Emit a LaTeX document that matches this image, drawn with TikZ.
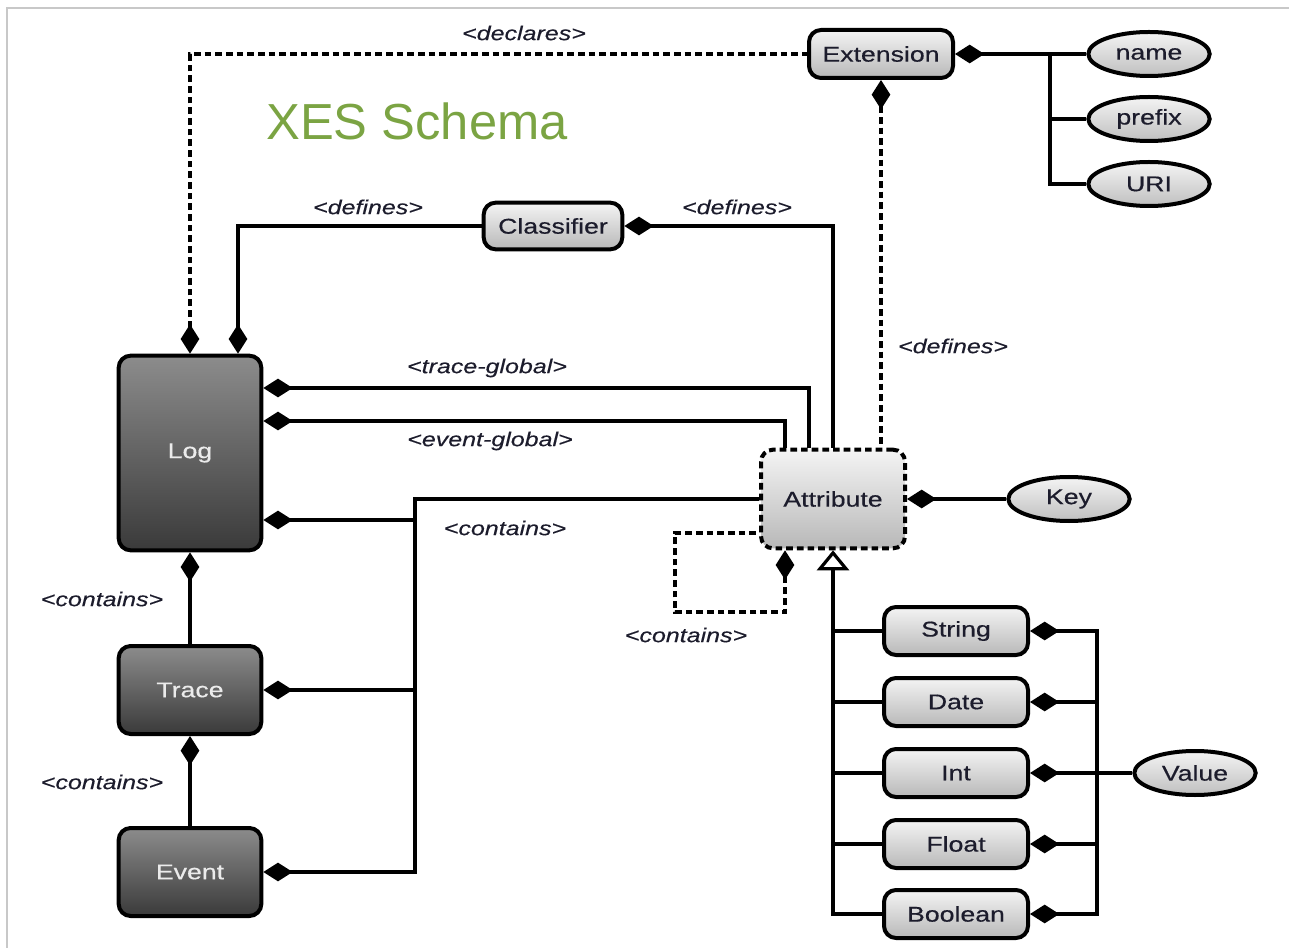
\documentclass[tikz,border=0pt]{standalone}
\usepackage{fontspec}
\setmainfont{Liberation Sans}
\newfontfamily\boxfont[FakeStretch=1.25,FakeBold=0.5]{Liberation Sans}
\newfontfamily\rolefont[FakeStretch=1.25,FakeBold=0.3]{Liberation Sans Italic}
\newfontfamily\titlefont{Liberation Sans}
\usetikzlibrary{arrows.meta,shapes.geometric}

\definecolor{titlegreen}{HTML}{7BA443}
\definecolor{darktop}{HTML}{8C8C8C}
\definecolor{darkbot}{HTML}{3A3A3A}
\definecolor{lighttop}{HTML}{F4F4F4}
\definecolor{lightbot}{HTML}{B8B8B8}
\definecolor{inktext}{HTML}{1C1C2C}
\definecolor{frameline}{HTML}{C8C8C8}

\tikzset{
  dm/.tip={Diamond[length=22pt,width=14pt]},
  gen/.tip={Triangle[open,fill=white,length=15pt,width=24pt]},
  basebox/.style={rounded corners=9pt, line width=3pt, draw=black,
    font=\boxfont\fontsize{16}{18}\selectfont, inner sep=0pt},
  darkbox/.style={basebox, top color=darktop, bottom color=darkbot,
    text=white!92!black, minimum width=107pt},
  lightbox/.style={basebox, top color=lighttop, bottom color=lightbot,
    text=inktext},
  attrbox/.style={lightbox, dash pattern=on 5pt off 3pt},
  typebox/.style={lightbox, minimum width=108pt, minimum height=36pt},
  prop/.style={ellipse, draw=black, line width=3pt, top color=lighttop,
    bottom color=lightbot!90!white, text=inktext, inner sep=0pt,
    minimum width=91pt, minimum height=33pt,
    font=\boxfont\fontsize{16}{18}\selectfont},
  link/.style={line width=2.4pt, draw=black},
  dlink/.style={line width=2.4pt, draw=black, dash pattern=on 5pt off 3pt},
  role/.style={font=\rolefont\fontsize{15}{18}\selectfont, text=inktext, inner sep=0pt},
}

\begin{document}
\begin{tikzpicture}[x=0.75pt, y=-0.75pt]
  \useasboundingbox (0,0) rectangle (1289,948);
  % page frame
  \draw[frameline, line width=1.5pt] (7,948) -- (7,8) -- (1289,8);

  % title
  \node[text=titlegreen, font=\titlefont\fontsize{38}{42}\selectfont, inner sep=0pt]
    (title) at (417,121) {XES Schema};

  % main elements
  \node[darkbox, minimum height=146pt] (log) at (190,453) {\raisebox{-4pt}{Log}};
  \node[darkbox, minimum height=66pt] (trc) at (190,690) {Trace};
  \node[darkbox, minimum height=66pt] (evt) at (190,872) {Event};

  \node[lightbox, minimum width=108pt, minimum height=36pt] (ext) at (881,54) {Extension};
  \node[lightbox, minimum width=104pt, minimum height=35pt] (cls) at (553,226) {Classifier};
  \node[attrbox, minimum width=108pt, minimum height=74pt] (attr) at (833,499) {Attribute};

  \node[typebox] (str)  at (956,631) {String};
  \node[typebox] (dat)  at (956,702) {Date};
  \node[typebox] (int)  at (956,773) {Int};
  \node[typebox] (flt)  at (956,844) {Float};
  \node[typebox] (bool) at (956,914) {Boolean};

  \node[prop] (nm)  at (1149,54)  {name};
  \node[prop] (pfx) at (1149,119) {prefix};
  \node[prop] (uri) at (1149,184) {URI};
  \node[prop] (key) at (1069,499) {Key};
  \node[prop] (val) at (1195,773) {Value};

  % routing helpers
  \coordinate (tgY) at (0,388);
  \coordinate (egY) at (0,421);
  \coordinate (cY) at (0,520);
  \coordinate (tgX) at (809,0);
  \coordinate (egX) at (785,0);
  \coordinate (busX) at (415,0);
  \coordinate (clsX) at (238,0);
  \coordinate (extX) at (1050,0);
  \coordinate (valX) at (1097,0);
  \coordinate (loopC) at (675,612);
  \coordinate (loopT) at (0,533);

  % extension and classifier links
  \draw[dlink, dm-] (log.north) |- (ext.west);
  \draw[link, dm-] (log.north -| clsX) |- (cls.west);
  \draw[link, dm-] (cls.east) -| (attr.north);
  \draw[dlink, dm-] (ext.south) -- (ext.south |- attr.north);

  % globals
  \draw[link, dm-] (log.east |- tgY) -| (attr.north -| tgX);
  \draw[link, dm-] (log.east |- egY) -| (attr.north -| egX);

  % containment bus
  \draw[link, dm-] (log.east |- cY) -- (busX |- cY);
  \draw[link, -dm] (attr.west) -| (busX |- evt.east) -- (evt.east);
  \draw[link, dm-] (trc.east) -- (busX |- trc.east);

  % nesting
  \draw[link, dm-] (log.south) -- (trc.north);
  \draw[link, dm-] (trc.south) -- (evt.north);

  % nested attributes
  \draw[dlink, dm-] (attr.south -| egX) |- (loopC) |- (attr.west |- loopT);

  % key
  \draw[link, dm-] (attr.east) -- (key.west);

  % extension properties
  \draw[link, dm-] (ext.east) -- (nm.west);
  \draw[link] (extX |- nm.west) |- (uri.west);
  \draw[link] (extX |- pfx.west) -- (pfx.west);

  % typed values
  \draw[link, dm-dm] (str.east) -| (valX |- bool.east) -- (bool.east);
  \draw[link, dm-] (dat.east) -- (valX |- dat.east);
  \draw[link, dm-] (int.east) -- (val.west);
  \draw[link, dm-] (flt.east) -- (valX |- flt.east);

  % specialisation
  \draw[link, gen-] (attr.south) |- (bool.west);
  \draw[link] (attr.south |- str.west) -- (str.west);
  \draw[link] (attr.south |- dat.west) -- (dat.west);
  \draw[link] (attr.south |- int.west) -- (int.west);
  \draw[link] (attr.south |- flt.west) -- (flt.west);

  % role names
  \node[role] (rDecl)  at (524,33)  {<declares>};
  \node[role] (rDefL)  at (368,207) {<defines>};
  \node[role] (rDefR)  at (737,207) {<defines>};
  \node[role] (rDefE)  at (953,346) {<defines>};
  \node[role] (rTG)    at (487,368) {<trace-global>};
  \node[role] (rEG)    at (490,441) {<event-global>};
  \node[role] (rCont)  at (505,528) {<contains>};
  \node[role] (rLoop)  at (686,635) {<contains>};
  \node[role] (rLT)    at (102,599) {<contains>};
  \node[role] (rTE)    at (102,782) {<contains>};
\end{tikzpicture}
\end{document}
